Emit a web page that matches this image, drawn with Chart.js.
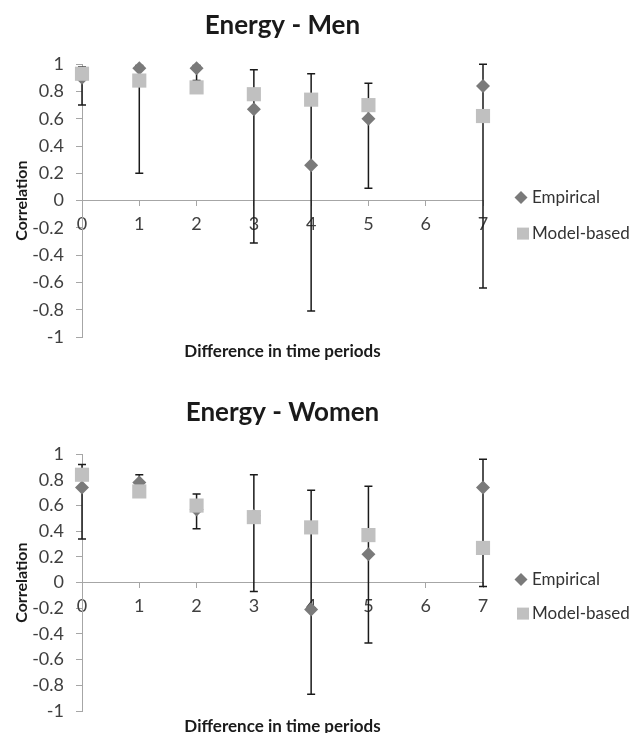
<!DOCTYPE html>
<html>
<head>
<meta charset="utf-8">
<title>Energy correlations</title>
<script src="https://cdn.jsdelivr.net/npm/chart.js@4.4.1/dist/chart.umd.min.js"></script>
<style>
  html, body { margin: 0; padding: 0; background: #fff; overflow: hidden; }
  .panel { position: absolute; left: 0; width: 635px; }
  #menPanel { top: 0; }
  #womenPanel { top: 365px; }
</style>
</head>
<body>
<div class="panel" id="menPanel"><canvas id="menChart" width="635" height="365"></canvas></div>
<div class="panel" id="womenPanel"><canvas id="womenChart" width="635" height="372"></canvas></div>
<script>
// Categories / tick labels
const periods = [0, 1, 2, 3, 4, 5, 6, 7];
const xTickLabels = ['0', '1', '2', '3', '4', '5', '6', '7'];
const yTickLabels = ['-1', '-0.8', '-0.6', '-0.4', '-0.2', '0', '0.2', '0.4', '0.6', '0.8', '1'];

// Men
const menEmpirical = [0.90, 0.97, 0.97, 0.67, 0.26, 0.60, null, 0.84];
const menEmpLow    = [0.70, 0.20, 0.88, -0.31, -0.81, 0.09, null, -0.64];
const menEmpHigh   = [0.98, 0.99, 0.99, 0.96, 0.93, 0.86, null, 1.00];
const menModel     = [0.93, 0.88, 0.83, 0.78, 0.74, 0.70, null, 0.62];

// Women
const womenEmpirical = [0.74, 0.78, 0.57, 0.52, -0.21, 0.22, null, 0.74];
const womenEmpLow    = [0.34, 0.73, 0.42, -0.07, -0.87, -0.47, null, -0.03];
const womenEmpHigh   = [0.92, 0.84, 0.69, 0.84, 0.72, 0.75, null, 0.96];
const womenModel     = [0.84, 0.71, 0.60, 0.51, 0.43, 0.37, null, 0.27];

const FONT = 'Lato';
const AXIS_GREY = '#a6a6a6';
const EMP_COLOR = '#7a7a7a';
const MODEL_COLOR = '#c0c0c0';

// error bars drawn under the markers
const errorBars = {
  id: 'errorBars',
  beforeDatasetsDraw(chart, args, opts) {
    const { ctx, scales } = chart;
    ctx.save();
    ctx.strokeStyle = '#1a1a1a';
    ctx.lineWidth = 1.5;
    periods.forEach((p, i) => {
      if (opts.low[i] == null || opts.high[i] == null) return;
      const x = scales.x.getPixelForValue(p);
      const y1 = scales.y.getPixelForValue(opts.low[i]);
      const y2 = scales.y.getPixelForValue(opts.high[i]);
      ctx.beginPath();
      ctx.moveTo(x, y1); ctx.lineTo(x, y2);
      ctx.moveTo(x - 4, y1); ctx.lineTo(x + 4, y1);
      ctx.moveTo(x - 4, y2); ctx.lineTo(x + 4, y2);
      ctx.stroke();
    });
    ctx.restore();
  }
};

// legend to the right of the plot
const sideLegend = {
  id: 'sideLegend',
  afterDraw(chart, args, opts) {
    const { ctx, chartArea } = chart;
    const cy = (chartArea.top + chartArea.bottom) / 2;
    const x = chartArea.right + 38;
    ctx.save();
    chart.data.datasets.forEach((ds, i) => {
      const y = cy + opts.offsets[i];
      ctx.fillStyle = ds.backgroundColor;
      ctx.beginPath();
      if (ds.pointStyle === 'rectRot') {
        ctx.moveTo(x - 6.5, y); ctx.lineTo(x, y - 6.5); ctx.lineTo(x + 6.5, y); ctx.lineTo(x, y + 6.5);
        ctx.closePath();
      } else {
        ctx.rect(x - 4, y - 6, 12, 12);
      }
      ctx.fill();
      ctx.fillStyle = '#333';
      ctx.font = '17px ' + FONT;
      ctx.textBaseline = 'middle';
      ctx.fillText(ds.label, x + 11, y);
    });
    ctx.restore();
  }
};

function makeChart(id, title, emp, low, high, model, lay) {
  const toPoints = vals => periods.map((p, i) => ({ x: p, y: vals[i] }));
  return new Chart(document.getElementById(id), {
    type: 'scatter',
    data: {
      datasets: [
        {
          label: 'Empirical',
          data: toPoints(emp),
          pointStyle: 'rectRot',
          pointRadius: 7,
          pointBorderWidth: 0,
          backgroundColor: EMP_COLOR,
          borderColor: EMP_COLOR,
          order: 1,
          clip: false,
          xAxisID: 'x'
        },
        {
          label: 'Model-based',
          data: toPoints(model),
          pointStyle: 'rect',
          pointRadius: 10,
          pointBorderWidth: 0,
          backgroundColor: MODEL_COLOR,
          borderColor: MODEL_COLOR,
          order: 0,
          clip: false,
          xAxisID: 'x'
        }
      ]
    },
    options: {
      responsive: false,
      animation: false,
      layout: { padding: { left: 0, right: 152, top: 0, bottom: 0 } },
      plugins: {
        legend: { display: false },
        tooltip: { enabled: false },
        title: {
          display: true,
          text: title,
          fullSize: false,
          color: '#1a1a1a',
          font: { family: FONT, size: 26, weight: 'bold' },
          padding: { top: lay.titleTop, bottom: lay.titleBottom }
        },
        errorBars: { low: low, high: high },
        sideLegend: { offsets: lay.legendOffsets }
      },
      scales: {
        x: {
          type: 'linear',
          position: { y: 0 },
          min: 0,
          max: 7,
          border: { color: AXIS_GREY, width: 1 },
          grid: { drawOnChartArea: false, tickLength: 5, color: AXIS_GREY },
          ticks: {
            stepSize: 1,
            padding: 8,
            color: '#404040',
            font: { family: FONT, size: 18 },
            callback: v => xTickLabels[periods.indexOf(v)]
          }
        },
        x2: {
          type: 'linear',
          position: 'bottom',
          min: 0,
          max: 7,
          grid: { display: false },
          border: { display: false },
          ticks: { display: false },
          title: {
            display: true,
            text: 'Difference in time periods',
            color: '#1a1a1a',
            font: { family: FONT, size: 17, weight: 'bold' },
            padding: { top: 0, bottom: lay.xTitlePad }
          },
          afterFit: s => { s.height = lay.xTitleH; }
        },
        y: {
          min: -1,
          max: 1,
          border: { color: AXIS_GREY, width: 1 },
          grid: { drawOnChartArea: false, tickLength: 6, color: AXIS_GREY },
          ticks: {
            stepSize: 0.2,
            padding: 12,
            color: '#404040',
            font: { family: FONT, size: 18 },
            callback: (v, i) => yTickLabels[i]
          },
          title: {
            display: true,
            text: 'Correlation',
            color: '#1a1a1a',
            font: { family: FONT, size: 16, weight: 'bold' },
            padding: { top: 12, bottom: 0 }
          },
          afterFit: s => { s.width = 82; }
        }
      }
    },
    plugins: [errorBars, sideLegend]
  });
}

makeChart('menChart', 'Energy - Men', menEmpirical, menEmpLow, menEmpHigh, menModel,
  { titleTop: 10, titleBottom: 23, xTitleH: 28, xTitlePad: 3, legendOffsets: [-3, 33] });
makeChart('womenChart', 'Energy - Women', womenEmpirical, womenEmpLow, womenEmpHigh, womenModel,
  { titleTop: 32, titleBottom: 26, xTitleH: 26, xTitlePad: 0, legendOffsets: [-3, 31] });
</script>
</body>
</html>
